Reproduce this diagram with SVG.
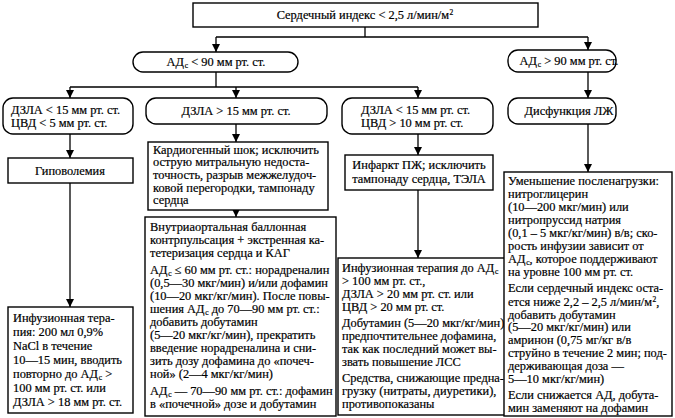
<svg xmlns="http://www.w3.org/2000/svg" width="675" height="418" viewBox="0 0 675 418" font-family="'Liberation Serif', 'Times New Roman', 'DejaVu Serif', serif">
<defs>
<marker id="ah" markerUnits="userSpaceOnUse" markerWidth="9" markerHeight="9" refX="8" refY="4" orient="auto">
<path d="M0,0 L8,4 L0,8 z" fill="#000"/>
</marker>
<style>
.b{fill:#fff;stroke:#000;stroke-width:1.4}
.c{fill:none;stroke:#000;stroke-width:1.3}
.a{marker-end:url(#ah)}
text{font-family:'Liberation Serif','Times New Roman','DejaVu Serif',serif;font-size:12.4px;fill:#000;stroke:#000;stroke-width:0.2px}
.m{text-anchor:middle}
.s{font-size:7.5px;baseline-shift:-1.5px}
.p{font-size:7.5px;baseline-shift:4px}
</style>
</defs>
<rect width="675" height="418" fill="#fff"/>

<g id="connectors">
<path class="c" d="M365,27 V37 M216,37 H588"/>
<path class="c a" d="M216,37 V52"/>
<path class="c a" d="M588,37 V50"/>
<path class="c" d="M216,72 V87 M70,87 H418"/>
<path class="c a" d="M70,87 V98"/>
<path class="c a" d="M236,87 V98"/>
<path class="c a" d="M418,87 V98"/>
<path class="c a" d="M588,72 V98"/>
<path class="c a" d="M70,134 V158"/>
<path class="c a" d="M236,124 V142"/>
<path class="c a" d="M418,134 V155"/>
<path class="c a" d="M588,124 V172"/>
<path class="c a" d="M236,210 V217"/>
<path class="c a" d="M70,183 V307"/>
<path class="c a" d="M418,190 V258"/>
</g>

<g id="n-ci">
<rect class="b" x="193" y="3" width="345" height="24"/>
<text class="m" x="365" y="19">Сердечный индекс &lt; 2,5 л/мин/м<tspan class="p" dx="0.5">2</tspan></text>
</g>

<g id="n-ad-low">
<rect class="b" x="133" y="52" width="165" height="20" rx="10"/>
<text class="m" x="216" y="66">АД<tspan class="s" dx="0.8">с</tspan> &lt; 90 мм рт. ст.</text>
</g>

<g id="n-ad-high">
<rect class="b" x="508" y="50" width="108" height="22" rx="10"/>
<text class="m" x="569" y="65">АД<tspan class="s" dx="0.8">с</tspan> &gt; 90 мм рт. ст.</text>
</g>

<g id="n-hypo-crit">
<rect class="b" x="3" y="98" width="130" height="36" rx="10"/>
<text x="11" y="114">ДЗЛА &lt; 15 мм рт. ст.</text>
<text x="11" y="127">ЦВД &lt; 5 мм рт. ст.</text>
</g>

<g id="n-dzla-high">
<rect class="b" x="146" y="98" width="181" height="26" rx="10"/>
<text class="m" x="236" y="115">ДЗЛА &gt; 15 мм рт. ст.</text>
</g>

<g id="n-rv-crit">
<rect class="b" x="342" y="98" width="151" height="36" rx="10"/>
<text x="361" y="114">ДЗЛА &lt; 15 мм рт. ст.</text>
<text x="361" y="127">ЦВД &gt; 10 мм рт. ст.</text>
</g>

<g id="n-lv">
<rect class="b" x="508" y="98" width="108" height="26" rx="10"/>
<text class="m" x="569" y="115">Дисфункция ЛЖ</text>
</g>

<g id="n-hypovolemia">
<rect class="b" x="8" y="158" width="125" height="25"/>
<text class="m" x="70" y="175">Гиповолемия</text>
</g>

<g id="n-cardio">
<rect class="b" x="148" y="142" width="180" height="68"/>
<text x="153" y="153.5">Кардиогенный шок; исключить</text>
<text x="153" y="166.2">острую митральную недоста-</text>
<text x="153" y="178.9">точность, разрыв межжелудоч-</text>
<text x="153" y="191.6">ковой перегородки, тампонаду</text>
<text x="153" y="204.3">сердца</text>
</g>

<g id="n-iabp">
<rect class="b" x="145" y="217" width="191" height="199"/>
<text x="150" y="231">Внутриаортальная баллонная</text>
<text x="150" y="244">контрпульсация + экстренная ка-</text>
<text x="150" y="257">тетеризация сердца и КАГ</text>
<text x="150" y="274">АД<tspan class="s" dx="0.8">с</tspan> ≤ 60 мм рт. ст.: норадреналин</text>
<text x="150" y="287">(0,5—30 мкг/мин) и/или дофамин</text>
<text x="150" y="300">(10—20 мкг/кг/мин). После повы-</text>
<text x="150" y="313">шения АД<tspan class="s" dx="0.8">с</tspan> до 70—90 мм рт. ст.:</text>
<text x="150" y="326">добавить добутамин</text>
<text x="150" y="339">(5—20 мкг/кг/мин), прекратить</text>
<text x="150" y="352">введение норадреналина и сни-</text>
<text x="150" y="365">зить дозу дофамина до «почеч-</text>
<text x="150" y="378">ной» (2—4 мкг/кг/мин)</text>
<text x="150" y="395">АД<tspan class="s" dx="0.8">с</tspan> — 70—90 мм рт. ст.: дофамин</text>
<text x="150" y="408">в «почечной» дозе и добутамин</text>
</g>

<g id="n-rv">
<rect class="b" x="345" y="155" width="148" height="35"/>
<text class="m" x="419" y="169">Инфаркт ПЖ; исключить</text>
<text class="m" x="419" y="183">тампонаду сердца, ТЭЛА</text>
</g>

<g id="n-rv-therapy">
<rect class="b" x="338" y="258" width="169" height="157"/>
<text x="342" y="272">Инфузионная терапия до АД<tspan class="s" dx="0.8">с</tspan></text>
<text x="342" y="285">&gt; 100 мм рт. ст.,</text>
<text x="342" y="298">ДЗЛА &gt; 20 мм рт. ст. или</text>
<text x="342" y="311">ЦВД &gt; 20 мм рт. ст.</text>
<text x="342" y="327">Добутамин (5—20 мкг/кг/мин)</text>
<text x="342" y="340">предпочтительнее дофамина,</text>
<text x="342" y="353">так как последний может вы-</text>
<text x="342" y="366">звать повышение ЛСС</text>
<text x="342" y="382">Средства, снижающие предна-</text>
<text x="342" y="395">грузку (нитраты, диуретики),</text>
<text x="342" y="408">противопоказаны</text>
</g>

<g id="n-infusion">
<rect class="b" x="8" y="307" width="125" height="106"/>
<text x="13" y="322">Инфузионная тера-</text>
<text x="13" y="336">пия: 200 мл 0,9%</text>
<text x="13" y="350">NaCl в течение</text>
<text x="13" y="364">10—15 мин, вводить</text>
<text x="13" y="378">повторно до АД<tspan class="s" dx="0.8">с</tspan> &gt;</text>
<text x="13" y="392">100 мм рт. ст. или</text>
<text x="13" y="406">ДЗЛА &gt; 18 мм рт. ст.</text>
</g>

<g id="n-lv-therapy">
<rect class="b" x="504" y="172" width="168" height="244"/>
<text x="508" y="185">Уменьшение посленагрузки:</text>
<text x="508" y="198">нитроглицерин</text>
<text x="508" y="211">(10—200 мкг/мин) или</text>
<text x="508" y="224">нитропруссид натрия</text>
<text x="508" y="237">(0,1 – 5 мкг/кг/мин) в/в; ско-</text>
<text x="508" y="250">рость инфузии зависит от</text>
<text x="508" y="263">АД<tspan class="s" dx="0.8">с</tspan>, которое поддерживают</text>
<text x="508" y="276">на уровне 100 мм рт. ст.</text>
<text x="508" y="292">Если сердечный индекс оста-</text>
<text x="508" y="305.5">ется ниже 2,2 – 2,5 л/мин/м<tspan class="p" dx="0.5">2</tspan>,</text>
<text x="508" y="318.5">добавить добутамин</text>
<text x="508" y="331">(5—20 мкг/кг/мин) или</text>
<text x="508" y="344">амринон (0,75 мг/кг в/в</text>
<text x="508" y="357">струйно в течение 2 мин; под-</text>
<text x="508" y="370">держивающая доза —</text>
<text x="508" y="383">5—10 мкг/кг/мин)</text>
<text x="508" y="399">Если снижается АД, добута-</text>
<text x="508" y="412">мин заменяют на дофамин</text>
</g>
</svg>
